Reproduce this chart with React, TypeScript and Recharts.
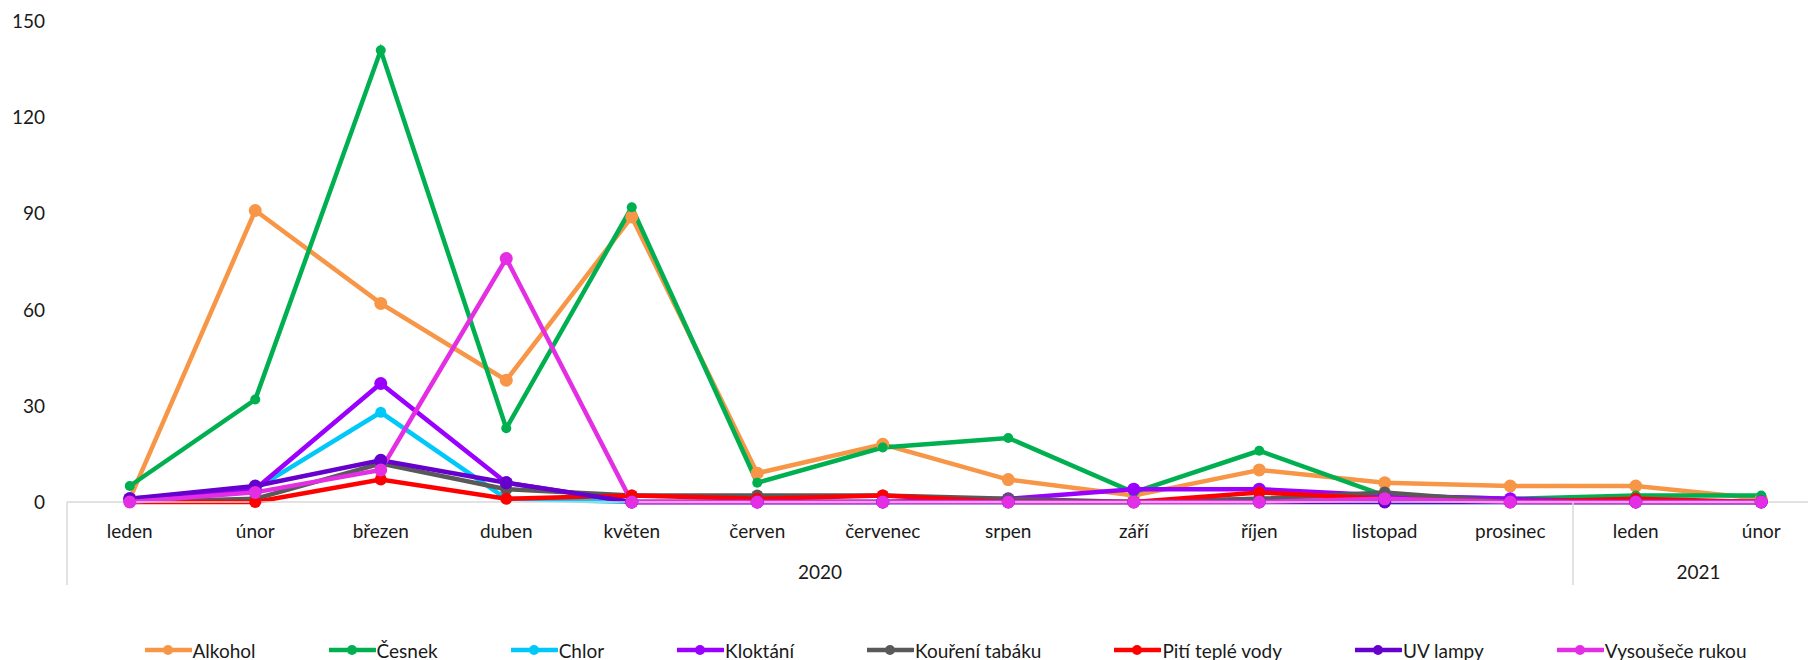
import { LineChart, Line, XAxis, YAxis, Legend } from "recharts";

const months = [
  "leden", "únor", "březen", "duben", "květen", "červen", "červenec",
  "srpen", "září", "říjen", "listopad", "prosinec", "leden", "únor",
];
const years = ["2020", "2021"];
const monthsPerYear = [12, 2];
const yTicks = [0, 30, 60, 90, 120, 150];

const alkohol = [1, 91, 62, 38, 89, 9, 18, 7, 2, 10, 6, 5, 5, 1];
const cesnek = [5, 32, 141, 23, 92, 6, 17, 20, 3, 16, 2, 1, 2, 2];
const chlor = [0, 4, 28, 1, 0, 0, 0, 0, 0, 1, 0, 0, 0, 0];
const kloktani = [1, 4, 37, 6, 0, 0, 0, 1, 4, 4, 2, 1, 0, 0];
const koureni = [0, 1, 12, 4, 2, 2, 2, 1, 0, 1, 3, 0, 0, 0];
const pitiVody = [0, 0, 7, 1, 2, 1, 2, 0, 0, 3, 1, 0, 1, 0];
const uvLampy = [1, 5, 13, 6, 0, 0, 0, 0, 0, 0, 0, 0, 0, 0];
const vysousece = [0, 3, 10, 76, 0, 0, 0, 0, 0, 0, 1, 0, 0, 0];

const series = [
  { key: "Alkohol", values: alkohol, color: "#F79646", r: 6.5 },
  { key: "Česnek", values: cesnek, color: "#00B050", r: 5 },
  { key: "Chlor", values: chlor, color: "#00C8F8", r: 5.5 },
  { key: "Kloktání", values: kloktani, color: "#9B00FF", r: 6.5 },
  { key: "Kouření tabáku", values: koureni, color: "#595959", r: 6 },
  { key: "Pití teplé vody", values: pitiVody, color: "#FF0000", r: 6 },
  { key: "UV lampy", values: uvLampy, color: "#6600CC", r: 6.5 },
  { key: "Vysoušeče rukou", values: vysousece, color: "#E32EE3", r: 6.5 },
];

const yearOfMonth: string[] = [];
years.forEach((y, i) => {
  for (let k = 0; k < monthsPerYear[i]; k++) yearOfMonth.push(y);
});

const data = months.map((m, i) => {
  const row: Record<string, string | number> = { month: m, year: yearOfMonth[i] };
  series.forEach((s) => (row[s.key] = s.values[i]));
  return row;
});

const FONT = "Lato, 'Liberation Sans', sans-serif";
const TEXT = "#1a1a1a";
const AXIS = "#D9D9D9";
const MONTH_AXIS_H = 40;
const YEAR_AXIS_H = 45;

const CHART_W = 1830;
const MARGIN = { top: 21.5, right: 6, bottom: 0, left: 0 };
const Y_AXIS_W = 67;
const PLOT_W = CHART_W - MARGIN.left - MARGIN.right - Y_AXIS_W;
const HALF_BAND = PLOT_W / months.length / 2;

const MonthTick = (props: any) => {
  const { x, y, payload } = props;
  return (
    <text x={x} y={y + 36} textAnchor="middle" fontFamily={FONT} fontSize={19} fill={TEXT}>
      {payload.value}
    </text>
  );
};

// second axis row: year labels centred under their months, plus group separators
const YearTick = (props: any) => {
  const { x, y, index } = props;
  const band = HALF_BAND * 2;
  let start = 0;
  const out: any[] = [];
  for (let g = 0; g < years.length; g++) {
    if (index === start) {
      const left = x - band / 2;
      out.push(
        <line key="sep" x1={left} x2={left} y1={y - MONTH_AXIS_H} y2={y + 43} stroke={AXIS} strokeWidth={1.5} />
      );
      out.push(
        <text key="lbl" x={left + (monthsPerYear[g] * band) / 2} y={y + 37} textAnchor="middle"
          fontFamily={FONT} fontSize={19} fill={TEXT}>
          {years[g]}
        </text>
      );
    }
    start += monthsPerYear[g];
  }
  if (index === months.length - 1) {
    const right = x + band / 2;
    out.push(
      <line key="end" x1={right} x2={right} y1={y - MONTH_AXIS_H} y2={y + 43} stroke={AXIS} strokeWidth={1.5} />
    );
  }
  return <g>{out}</g>;
};

const renderLegend = () => (
  <div
    style={{
      height: 73,
      display: "flex",
      justifyContent: "center",
      alignItems: "flex-end",
      gap: 73,
      fontFamily: FONT,
      fontSize: 19,
      color: TEXT,
    }}
  >
    {series.map((s) => (
      <div key={s.key} style={{ display: "flex", alignItems: "center", height: 20, whiteSpace: "nowrap" }}>
        <svg width={47} height={14} style={{ marginRight: 1 }}>
          <line x1={0} x2={46} y1={7} y2={7} stroke={s.color} strokeWidth={4.5} strokeLinecap="round" />
          <circle cx={23} cy={7} r={5} fill={s.color} />
        </svg>
        <span>{s.key}</span>
      </div>
    ))}
  </div>
);

export default function App() {
  return (
    <div style={{ position: "absolute", left: 0, top: 0, width: 1808, height: 660, overflow: "hidden", background: "#fff" }}>
      <LineChart width={CHART_W} height={660} data={data} margin={MARGIN}>
        <XAxis
          dataKey="month"
          interval={0}
          padding={{ left: HALF_BAND, right: HALF_BAND }}
          height={MONTH_AXIS_H}
          axisLine={{ stroke: AXIS, strokeWidth: 1.5 }}
          tickLine={false}
          tickSize={0}
          tickMargin={0}
          tick={<MonthTick />}
        />
        <XAxis
          xAxisId="year"
          dataKey="year"
          interval={0}
          padding={{ left: HALF_BAND, right: HALF_BAND }}
          height={YEAR_AXIS_H}
          axisLine={false}
          tickLine={false}
          tickSize={0}
          tickMargin={0}
          tick={<YearTick />}
        />
        <YAxis
          width={Y_AXIS_W}
          domain={[0, 150]}
          ticks={yTicks}
          interval={0}
          axisLine={false}
          tickLine={false}
          tickSize={0}
          tickMargin={22}
          tick={{ fontFamily: FONT, fontSize: 19, fill: TEXT }}
        />
        <Legend
          verticalAlign="bottom"
          content={renderLegend}
          wrapperStyle={{ left: Y_AXIS_W, width: PLOT_W, bottom: 0 }}
        />
        {series.map((s) => (
          <Line
            key={s.key}
            dataKey={s.key}
            stroke={s.color}
            strokeWidth={4.5}
            dot={{ r: s.r, fill: s.color, stroke: s.color, strokeWidth: 0 }}
            activeDot={false}
            isAnimationActive={false}
          />
        ))}
      </LineChart>
    </div>
  );
}
